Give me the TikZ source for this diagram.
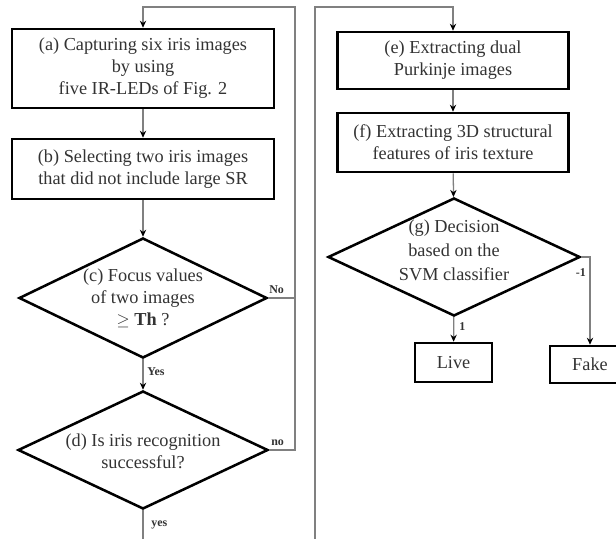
\documentclass[tikz,border=0pt]{standalone}
\usepackage{fontspec}
\setmainfont{Liberation Serif}
\usepackage{tikz}
\usetikzlibrary{positioning, shapes.geometric, arrows.meta, calc}

\begin{document}
\begin{tikzpicture}[x=0.025cm, y=-0.025cm]
    \tikzset{
        step box/.style={
                draw=black, line width=1.8pt, fill=white, text=black!80,
                align=center, inner sep=0pt,
                font=\fontsize{13}{15.6}\selectfont
            },
        decision/.style={
                diamond, draw=black, line width=1.8pt, fill=white, inner sep=0pt
            },
        decision text/.style={
                text=black!80, align=center, inner sep=0pt,
                font=\fontsize{13}{15.6}\selectfont
            },
        link/.style={
                draw=black!50, line width=0.9pt
            },
        flow arrow/.style={
                link, -{Stealth[length=5pt, width=4.5pt, color=black, fill=black]}
            },
        flow label/.style={
                font=\fontsize{8.5}{10}\bfseries\selectfont, text=black!80, inner sep=0pt
            }
    }

    \useasboundingbox (0,0) rectangle (616,538);
    \fill[white] (0,0) rectangle (616,538);
    \clip (0,0) rectangle (616,538);

    % left column
    \node[step box, minimum width=6.55cm, minimum height=1.975cm] (a) at (143, 68.5)
        {(a) Capturing six iris images\\by using\\five IR-LEDs of Fig. 2};
    \node[step box, minimum width=6.55cm, minimum height=1.5cm] (b) at (143, 169)
        {(b) Selecting two iris images\\that did not include large SR};
    \node[decision, minimum width=6.2cm, minimum height=3cm] (c) at (143, 298) {};
    \node[decision text] (ctext) at (143, 298)
        {(c) Focus values\\of two images\\$\geq$ \textbf{Th} ?};
    \node[decision, minimum width=6.25cm, minimum height=2.95cm] (d) at (143, 450) {};
    \node[decision text] (dtext) at (143, 451)
        {(d) Is iris recognition\\successful?};

    % right column
    \node[step box, minimum width=5.775cm, minimum height=1.425cm] (e) at (453, 60.5)
        {(e) Extracting dual\\Purkinje images};
    \node[step box, minimum width=5.775cm, minimum height=1.475cm] (f) at (453, 142.5)
        {(f) Extracting 3D structural\\features of iris texture};
    \node[decision, minimum width=6.3cm, minimum height=2.95cm] (g) at (454, 257) {};
    \node[decision text, font=\fontsize{13}{17}\selectfont] (gtext) at (454, 250)
        {(g) Decision\\based on the\\SVM classifier};
    \node[step box, minimum width=1.925cm, minimum height=0.975cm] (live) at (453.5, 362.5) {Live};
    \node[step box, minimum width=2cm, minimum height=0.925cm] (fake) at (590, 364.5) {Fake};

    % loop corners
    \coordinate (loopL) at (295, 7);
    \coordinate (loopR) at (315, 7);
    \coordinate (loopB) at (315, 560);

    \draw[flow arrow] (a) -- (b);
    \draw[flow arrow] (b) -- (c);
    \draw[flow arrow] (c) -- (d);
    \draw[link] (c.east) -- (c.east -| loopL);
    \draw[flow arrow] (d.east) -| (loopL) -| (a.north);
    \draw[flow arrow] (d.south) |- (loopB) -- (loopR) -| (e.north);
    \draw[flow arrow] (e) -- (f);
    \draw[flow arrow] (f) -- (g);
    \draw[flow arrow] (g) -- (live);
    \draw[flow arrow] (g.east) -| (fake.north);

    \node[flow label, anchor=south west] (lno) at (269, 294) {No};
    \node[flow label, anchor=west] (lyes) at (147, 372) {Yes};
    \node[flow label, anchor=south west] (lno2) at (271, 446) {no};
    \node[flow label, anchor=west] (lyes2) at (151, 525) {yes};
    \node[flow label, anchor=west] (lone) at (459, 327) {1};
    \node[flow label, anchor=east] (lminus) at (586, 273) {-1};
\end{tikzpicture}
\end{document}
